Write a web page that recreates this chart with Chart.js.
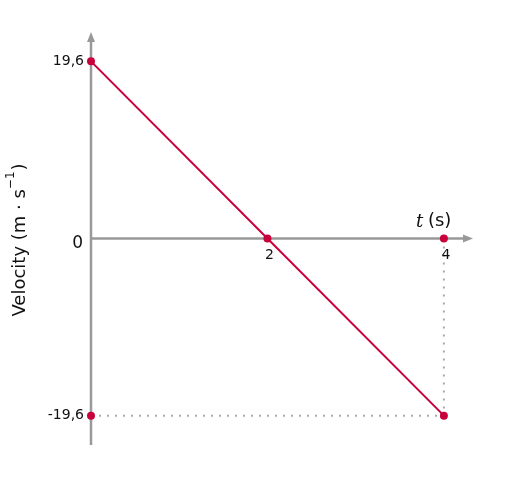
<!DOCTYPE html>
<html><head><meta charset="utf-8">
<script src="https://cdn.jsdelivr.net/npm/chart.js@4/dist/chart.umd.min.js"></script>
<style>html,body{margin:0;padding:0;background:#fff}#wrap{width:506px;height:477px}</style>
</head><body><div id="wrap"><canvas id="c" width="506" height="477"></canvas></div>
<script>
const times = [0, 2, 4];
const velocities = [19.6, 0, -19.6];
const xTickValues = [2, 4];
const xTickLabels = ["2", "4"];
const yTickValues = [19.6, 0, -19.6];
const yTickLabels = ["19,6", "0", "-19,6"];
const xAxisTitle = "(s)";
const yAxisTitle = "Velocity (m · s";

const lineColor = "#c8003c";
const axisColor = "#999999";

const axesPlugin = {
  id: "axesPlugin",
  beforeDatasetsDraw(chart) {
    const ctx = chart.ctx, xs = chart.scales.x, ys = chart.scales.y;
    const x0 = xs.getPixelForValue(0), y0 = ys.getPixelForValue(0);
    const top = chart.chartArea.top, bottom = chart.chartArea.bottom, right = chart.chartArea.right;
    ctx.save();
    ctx.strokeStyle = axisColor; ctx.fillStyle = axisColor; ctx.lineWidth = 2.5;
    ctx.beginPath(); ctx.moveTo(x0, bottom); ctx.lineTo(x0, top + 6); ctx.stroke();
    ctx.beginPath(); ctx.moveTo(x0 - 4, top + 10); ctx.lineTo(x0, top); ctx.lineTo(x0 + 4, top + 10); ctx.closePath(); ctx.fill();
    ctx.beginPath(); ctx.moveTo(x0, y0); ctx.lineTo(right - 6, y0); ctx.stroke();
    ctx.beginPath(); ctx.moveTo(right - 10, y0 - 4); ctx.lineTo(right, y0); ctx.lineTo(right - 10, y0 + 4); ctx.closePath(); ctx.fill();
    ctx.restore();
  },
  afterDraw(chart) {
    const ctx = chart.ctx, xs = chart.scales.x, ys = chart.scales.y;
    const x0 = xs.getPixelForValue(0), y0 = ys.getPixelForValue(0);
    ctx.save();
    ctx.fillStyle = "#111";
    ctx.textBaseline = "middle";
    ctx.textAlign = "right";
    yTickValues.forEach((v, i) => {
      ctx.font = v === 0 ? "17px 'DejaVu Sans'" : "14px 'DejaVu Sans'";
      ctx.fillText(yTickLabels[i], v === 0 ? x0 - 8 : x0 - 7, ys.getPixelForValue(v) + (v === 0 ? 5 : 0));
    });
    ctx.textAlign = "center";
    ctx.font = "14px 'DejaVu Sans'";
    xTickValues.forEach((v, i) => {
      ctx.fillText(xTickLabels[i], xs.getPixelForValue(v) + 2, y0 + 17);
    });
    // x axis title
    ctx.textAlign = "left";
    ctx.font = "italic 18px 'DejaVu Serif'";
    ctx.fillText("t", xs.getPixelForValue(4) - 28, y0 - 16);
    ctx.font = "18px 'DejaVu Sans'";
    ctx.fillText(xAxisTitle, xs.getPixelForValue(4) - 16, y0 - 17);
    // y axis title rotated
    ctx.translate(20, y0);
    ctx.rotate(-Math.PI / 2);
    ctx.font = "18px 'DejaVu Sans'";
    const w1 = ctx.measureText(yAxisTitle).width;
    ctx.font = "12px 'DejaVu Sans'";
    const w2 = ctx.measureText("−1").width;
    ctx.font = "18px 'DejaVu Sans'";
    const w3 = ctx.measureText(")").width;
    let sx = -(w1 + w2 + w3) / 2 - 2;
    ctx.fillText(yAxisTitle, sx, 0);
    ctx.font = "12px 'DejaVu Sans'";
    ctx.fillText("−1", sx + w1, -9);
    ctx.font = "18px 'DejaVu Sans'";
    ctx.fillText(")", sx + w1 + w2 + 1, 0);
    ctx.restore();
  }
};

new Chart(document.getElementById("c"), {
  type: "scatter",
  data: {
    datasets: [
      {
        data: [{x: 0, y: velocities[2]}, {x: times[2], y: velocities[2]}],
        showLine: true, borderColor: "#aaaaaa", borderWidth: 2, borderDash: [2, 6],
        pointRadius: 0, order: 2, clip: false
      },
      {
        data: [{x: times[2], y: 0}, {x: times[2], y: velocities[2]}],
        showLine: true, borderColor: "#aaaaaa", borderWidth: 2, borderDash: [2, 6],
        pointRadius: 0, order: 2, clip: false
      },
      {
        data: times.map((t, i) => ({x: t, y: velocities[i]})),
        showLine: true, borderColor: lineColor, borderWidth: 2,
        pointRadius: 4, pointBackgroundColor: lineColor, pointBorderWidth: 0, order: 1, clip: false
      },
      {
        data: [{x: 0, y: velocities[2]}, {x: times[2], y: 0}],
        showLine: false, pointRadius: 4, pointBackgroundColor: lineColor, pointBorderWidth: 0, order: 0, clip: false
      }
    ]
  },
  options: {
    responsive: false, animation: false, devicePixelRatio: 1,
    layout: {padding: {left: 91, right: 33, top: 32, bottom: 32}},
    plugins: {legend: {display: false}, tooltip: {enabled: false}},
    scales: {
      x: {type: "linear", min: 0, max: 4.33, display: false},
      y: {type: "linear", min: -22.85, max: 22.85, display: false}
    }
  },
  plugins: [axesPlugin]
});
</script></body></html>
